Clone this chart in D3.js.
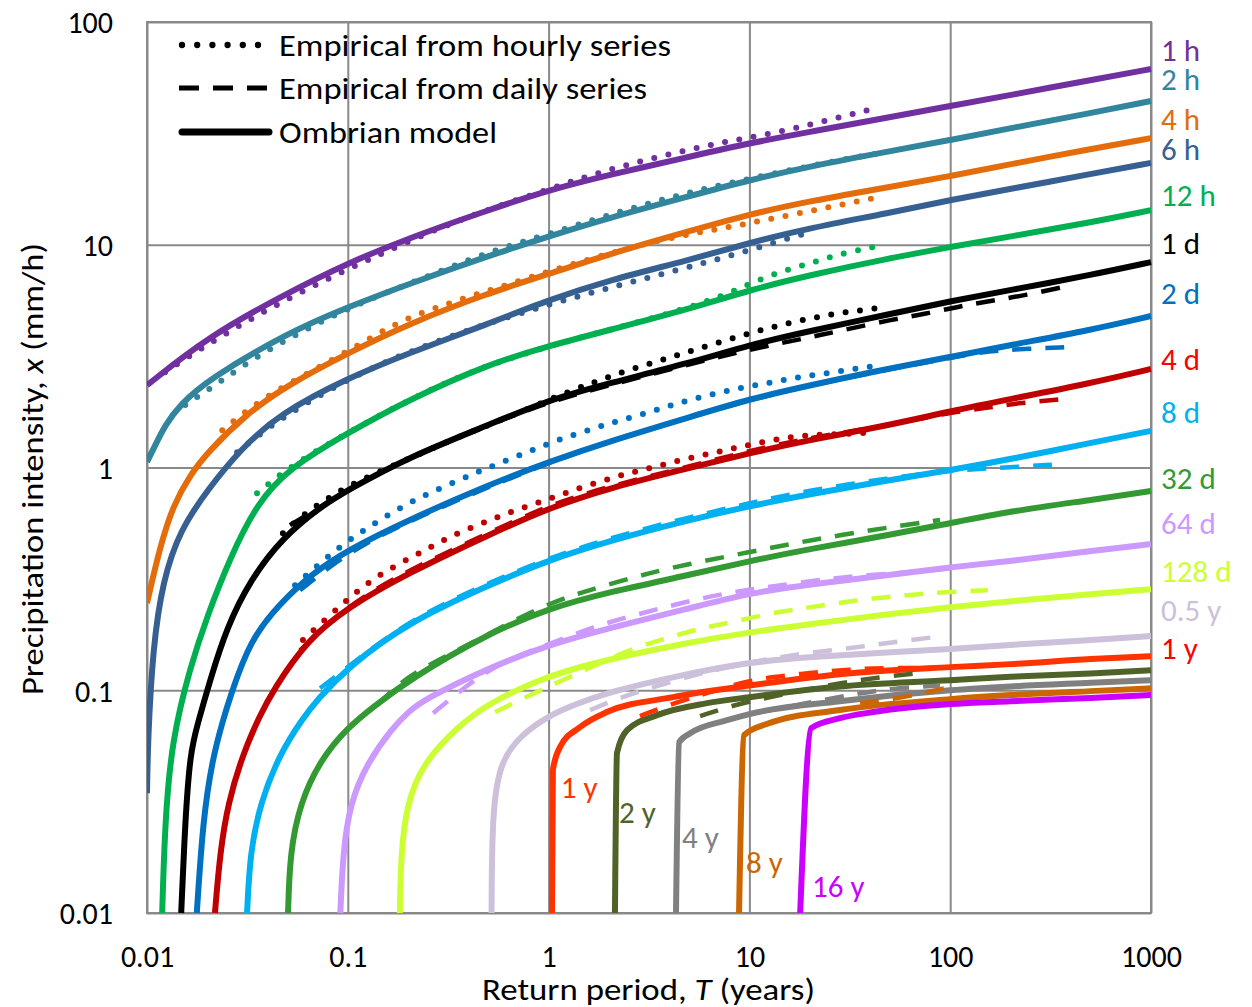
<!DOCTYPE html>
<html>
<head>
<meta charset="utf-8">
<script src="https://cdn.jsdelivr.net/npm/d3@7"></script>
<style>
  body { margin: 0; background: #fff; }
  svg { display: block; }
  text { font-family: Carlito, Calibri, Lato, "Open Sans", sans-serif; }
</style>
</head>
<body>
<svg id="chart" width="1252" height="1007"></svg>
<script>
// ---------- axis ticks ----------
const returnPeriodTicks = [0.01, 0.1, 1, 10, 100, 1000];
const intensityTicks = [0.01, 0.1, 1, 10, 100];

// ---------- durations and colours ----------
const durations = ["1 h", "2 h", "4 h", "6 h", "12 h", "1 d", "2 d", "4 d", "8 d",
                   "32 d", "64 d", "128 d", "0.5 y", "1 y", "2 y", "4 y", "8 y", "16 y"];
const durationColors = ["#7030A0", "#31859C", "#E46C0A", "#376092", "#00B050", "#000000",
                        "#0070C0", "#C00000", "#00B0F0", "#339933", "#CC99FF", "#CCFF33",
                        "#CCC0DA", "#FF3300", "#4F6228", "#808080", "#CC6600", "#CC00FF"];

// ---------- ombrian model curves: [T (years), x (mm/h)] ----------
const model1h = [[0.01,2.34],[0.02,3.85],[0.05,6.08],[0.1,8.27],[0.2,10.7],[0.5,14.3],[1,17.6],[2,20.6],[5,24.8],[10,28.6],[20,32.1],[50,37.4],[100,42.0],[200,47.0],[500,54.9],[1000,61.5]];
const model2h = [[0.01,1.06],[0.011,1.26],[0.0123,1.55],[0.0146,1.91],[0.02,2.47],[0.05,4.02],[0.1,5.25],[0.2,6.66],[0.5,8.90],[1,10.9],[2,13.2],[5,16.5],[10,19.5],[20,22.5],[50,26.3],[100,29.5],[200,33.4],[500,39.0],[1000,44.2]];
const model4h = [[0.01,0.246],[0.0116,0.440],[0.0135,0.678],[0.0164,0.925],[0.02,1.17],[0.0315,1.75],[0.05,2.34],[0.1,3.26],[0.2,4.41],[0.5,6.07],[1,7.38],[2,9.08],[5,11.5],[10,13.7],[20,15.7],[50,18.2],[100,20.3],[200,23.0],[500,26.9],[1000,30.1]];
const model6h = [[0.01,0.0345],[0.0101,0.0597],[0.0107,0.156],[0.012,0.312],[0.0146,0.524],[0.02,0.792],[0.029,1.20],[0.046,1.75],[0.1,2.52],[0.2,3.26],[0.5,4.41],[1,5.65],[2,6.94],[5,8.53],[10,10.2],[20,11.9],[50,13.9],[100,15.9],[200,17.8],[500,20.8],[1000,23.3]];
const model12h = [[0.0119,0.01],[0.0123,0.0261],[0.0133,0.0597],[0.0164,0.127],[0.02,0.217],[0.0259,0.392],[0.0353,0.692],[0.0515,1.00],[0.1,1.43],[0.2,2.01],[0.5,2.91],[1,3.51],[2,4.14],[5,5.14],[10,6.26],[20,7.31],[50,8.71],[100,9.77],[200,10.9],[500,12.6],[1000,14.3]];
const model1d = [[0.0148,0.01],[0.0155,0.0261],[0.0164,0.0522],[0.0178,0.0697],[0.0206,0.111],[0.025,0.192],[0.0326,0.312],[0.0475,0.486],[0.0728,0.664],[0.1,0.792],[0.2,1.11],[0.5,1.55],[1,2.01],[2,2.39],[5,2.94],[10,3.55],[20,4.10],[50,4.88],[100,5.58],[200,6.26],[500,7.31],[1000,8.36]];
const model2d = [[0.0177,0.01],[0.019,0.0261],[0.0211,0.0485],[0.0239,0.0734],[0.0259,0.0931],[0.0326,0.168],[0.046,0.246],[0.0671,0.336],[0.1,0.426],[0.2,0.581],[0.5,0.834],[1,1.06],[2,1.31],[5,1.68],[10,2.03],[20,2.34],[50,2.79],[100,3.13],[200,3.55],[500,4.14],[1000,4.79]];
const model4d = [[0.0218,0.01],[0.0231,0.0186],[0.0253,0.0311],[0.0301,0.0522],[0.0366,0.0773],[0.0424,0.100],[0.0627,0.168],[0.1,0.236],[0.2,0.336],[0.5,0.497],[1,0.658],[2,0.809],[5,0.994],[10,1.16],[20,1.33],[50,1.55],[100,1.79],[200,2.03],[500,2.39],[1000,2.77]];
const model8d = [[0.0315,0.01],[0.0326,0.0186],[0.0366,0.0311],[0.046,0.0522],[0.0598,0.0749],[0.0703,0.0904],[0.1,0.127],[0.2,0.202],[0.5,0.296],[1,0.384],[2,0.468],[5,0.581],[10,0.671],[20,0.760],[50,0.877],[100,0.973],[200,1.09],[500,1.29],[1000,1.46]];
const model32d = [[0.0504,0.01],[0.0515,0.0186],[0.0578,0.0311],[0.0728,0.0485],[0.1,0.0682],[0.1334,0.0839],[0.2,0.111],[0.5,0.180],[1,0.233],[2,0.276],[5,0.329],[10,0.380],[20,0.431],[50,0.498],[100,0.562],[200,0.637],[500,0.714],[1000,0.784]];
const model64d = [[0.0918,0.01],[0.0946,0.0186],[0.1026,0.0311],[0.1247,0.0471],[0.168,0.0682],[0.2,0.0798],[0.237,0.0904],[0.5,0.126],[1,0.160],[2,0.190],[5,0.233],[10,0.273],[20,0.299],[50,0.329],[100,0.357],[200,0.380],[500,0.422],[1000,0.453]];
const model128d = [[0.1816,0.01],[0.184,0.0186],[0.197,0.0311],[0.237,0.0471],[0.350,0.0682],[0.5,0.0875],[1,0.117],[2,0.138],[5,0.164],[10,0.182],[20,0.198],[50,0.220],[100,0.236],[200,0.251],[500,0.270],[1000,0.284]];
const model05y = [[0.520,0.01],[0.523,0.0281],[0.573,0.0485],[0.746,0.0641],[1,0.0766],[1.32,0.0857],[2,0.0982],[4.17,0.115],[10,0.134],[20,0.141],[50,0.148],[100,0.153],[200,0.160],[500,0.168],[1000,0.175]];
const model1y = [[1.04,0.01],[1.05,0.0438],[1.14,0.0556],[1.43,0.0682],[1.95,0.0798],[4.17,0.0931],[10,0.105],[28.2,0.118],[100,0.127],[200,0.131],[500,0.138],[1000,0.142]];
const model2y = [[2.14,0.01],[2.19,0.0522],[2.46,0.0662],[3.47,0.0773],[6.15,0.0875],[10,0.0931],[28.2,0.104],[100,0.111],[200,0.115],[500,0.119],[1000,0.123]];
const model4y = [[4.31,0.01],[4.47,0.0585],[5.07,0.0641],[7.74,0.0734],[10,0.0782],[28.2,0.0893],[100,0.100],[200,0.104],[500,0.108],[1000,0.111]];
const model8y = [[8.88,0.01],[9.40,0.0628],[12.2,0.0705],[28.2,0.0815],[100,0.0912],[200,0.0951],[500,0.0991],[1000,0.102]];
const model16y = [[17.9,0.01],[20.3,0.0676],[28.2,0.0749],[41.3,0.0798],[100,0.0867],[200,0.0893],[500,0.0923],[1000,0.0951]];

// ---------- empirical curves from the hourly series ----------
const hourly1h = [[0.0123,2.68],[0.02,3.58],[0.0424,5.31],[0.1,7.79],[0.237,11.1],[0.455,14.0],[1.05,18.0],[1.74,21.0],[3.47,24.8],[6.90,28.6],[13.7,31.8],[27.3,37.1],[44.7,41.5]];
const hourly2h = [[0.0155,1.91],[0.0226,2.39],[0.0353,3.16],[0.0558,3.97],[0.0893,4.93],[0.1446,5.94],[0.237,7.08],[0.384,8.45],[0.628,9.86],[1.05,11.3],[3.20,15.6],[10,19.9],[31.7,24.5],[44.7,25.8]];
const hourly4h = [[0.0237,1.47],[0.0315,1.81],[0.046,2.27],[0.0649,2.68],[0.0883,3.13],[0.1247,3.73],[0.168,4.36],[0.237,4.99],[0.323,5.47],[0.455,6.07],[0.621,6.59],[0.875,7.31],[1.28,8.11],[2.02,9.18],[4.03,10.8],[8.02,12.0],[15.9,13.6],[31.7,15.4],[44.7,16.4]];
const hourly6h = [[0.0281,1.17],[0.046,1.67],[0.1062,2.57],[0.2,3.30],[0.42,4.23],[1.05,5.47],[2.09,6.46],[4.17,7.62],[8.30,8.99],[13.7,10.3],[20,11.4]];
const hourly12h = [[0.0353,0.767],[0.0515,1.01],[0.0914,1.37],[0.2,2.01],[0.42,2.74],[1,3.51],[2,4.14],[5,5.20],[8.2,6.13],[11.3,7.02],[15.9,7.78],[22.5,8.53],[31.0,9.27],[43.7,9.86]];
const hourly1d = [[0.0475,0.507],[0.0612,0.624],[0.0815,0.736],[0.1,0.826],[0.176,1.04],[0.237,1.17],[0.330,1.33],[0.455,1.50],[0.628,1.68],[0.875,1.91],[1.24,2.18],[1.74,2.44],[2.40,2.71],[3.39,2.97],[4.68,3.26],[6.59,3.58],[9.30,3.93],[13.0,4.27],[18.3,4.59],[25.8,4.88],[36.4,5.09],[43.7,5.20]];
const hourly2d = [[0.0546,0.296],[0.0711,0.365],[0.0935,0.449],[0.1247,0.535],[0.168,0.631],[0.229,0.736],[0.315,0.834],[0.440,0.953],[0.593,1.06],[0.836,1.20],[1.11,1.33],[1.64,1.49],[2.27,1.63],[3.20,1.77],[4.42,1.95],[6.22,2.11],[8.78,2.27],[12.4,2.39],[17.5,2.55],[24.6,2.65],[34.8,2.79],[42.2,2.85]];
const hourly4d = [[0.0598,0.168],[0.0788,0.211],[0.1026,0.262],[0.1334,0.316],[0.182,0.372],[0.248,0.431],[0.334,0.497],[0.466,0.562],[0.643,0.631],[0.906,0.700],[1.25,0.776],[1.76,0.860],[2.49,0.944],[3.47,1.01],[4.90,1.10],[6.90,1.17],[9.73,1.26],[13.7,1.34],[19.4,1.40],[27.6,1.41],[39.0,1.43]];

// ---------- empirical curves from the daily series ----------
const daily1d = [[0.0515,0.551],[0.1,0.792],[0.2,1.11],[0.5,1.55],[1,1.97],[2,2.34],[4.36,2.82],[9.73,3.37],[15.4,3.66],[22.5,3.93],[32.8,4.23],[50,4.59],[73.3,4.88],[108,5.25],[146,5.53],[241,5.94],[404,6.59]];
const daily2d = [[0.0578,0.281],[0.1,0.417],[0.2,0.574],[0.5,0.817],[1,1.05],[2,1.31],[5,1.68],[10,2.01],[20,2.34],[50,2.77],[100,3.10],[141,3.30],[215,3.40],[386,3.47]];
const daily4d = [[0.0578,0.151],[0.1,0.241],[0.2,0.346],[0.5,0.507],[1,0.678],[2,0.824],[5,1.01],[10,1.19],[20,1.36],[50,1.55],[100,1.77],[152,1.85],[223,1.95],[365,2.03]];
const daily8d = [[0.0728,0.102],[0.1,0.127],[0.2,0.206],[0.5,0.303],[1,0.392],[2,0.482],[5,0.598],[10,0.692],[20,0.792],[50,0.896],[100,0.973],[192,1.00],[325,1.03]];
const daily32d = [[0.1397,0.0857],[0.182,0.108],[0.237,0.126],[0.42,0.164],[0.643,0.202],[1.05,0.249],[1.48,0.276],[2.19,0.306],[3.20,0.336],[4.68,0.365],[10,0.417],[20,0.472],[50,0.540],[89,0.581]];
const daily64d = [[0.266,0.0789],[0.375,0.102],[0.573,0.134],[1.14,0.168],[1.66,0.192],[2.46,0.213],[3.59,0.233],[5.25,0.254],[7.74,0.273],[11.3,0.288],[17.3,0.303],[26.1,0.318],[38.5,0.329],[58.2,0.336],[100,0.353]];
const daily128d = [[0.541,0.0798],[0.906,0.100],[1.61,0.126],[2.63,0.155],[3.89,0.171],[5.68,0.190],[8.30,0.202],[12.7,0.222],[18.5,0.233],[27.3,0.246],[41.3,0.259],[61.0,0.267],[92.1,0.276],[154,0.281]];
const daily05y = [[1.61,0.0814],[2.27,0.0931],[5.68,0.120],[11.3,0.136],[16.5,0.144],[25.0,0.151],[38.5,0.158],[56.2,0.166],[92.1,0.175]];
const daily1y = [[2.85,0.0766],[4.36,0.0885],[6.15,0.0970],[8.98,0.108],[13.1,0.115],[20.7,0.120],[31.7,0.124],[46.3,0.126],[75.0,0.126]];
const daily2y = [[5.68,0.0766],[8.98,0.0875],[14.2,0.0951],[20.7,0.102],[30.6,0.109],[46.3,0.115],[75.0,0.120]];
const daily4y = [[11.3,0.0798],[23.3,0.0904],[35.6,0.0970],[51.9,0.102],[89.0,0.105]];
const daily8y = [[35.6,0.0875],[61.0,0.0931],[102,0.104]];

// ---------- curve labels ----------
// right-hand labels: text, colour, intensity level the label sits at
const rightLabels = ["1 h", "2 h", "4 h", "6 h", "12 h", "1 d", "2 d", "4 d", "8 d", "32 d", "64 d", "128 d", "0.5 y", "1 y"];
const rightLabelColors = ["#7030A0", "#31859C", "#E46C0A", "#376092", "#00B050", "#000000", "#0070C0",
                          "#FF0000", "#00B0F0", "#339933", "#CC99FF", "#CCFF33", "#CCC0DA", "#FF0000"];
const rightLabelLevels = [74.9, 55.5, 36.7, 26.9, 16.7, 10.2, 6.07, 3.07, 1.77, 0.896, 0.562, 0.343, 0.229, 0.155];
// labels beside the near-vertical branches: text, colour, [T, x] anchor
const branchLabels = ["1 y", "2 y", "4 y", "8 y", "16 y"];
const branchLabelColors = ["#FF3300", "#4F6228", "#808080", "#CC6600", "#CC00FF"];
const branchLabelAnchors = [[1.15, 0.0367], [2.24, 0.0284], [4.62, 0.0219], [9.62, 0.0169], [20.5, 0.0133]];

const modelCurves = [model1h, model2h, model4h, model6h, model12h, model1d, model2d, model4d, model8d,
                     model32d, model64d, model128d, model05y, model1y, model2y, model4y, model8y, model16y];
const hourlyCurves = { "1 h": hourly1h, "2 h": hourly2h, "4 h": hourly4h, "6 h": hourly6h,
                       "12 h": hourly12h, "1 d": hourly1d, "2 d": hourly2d, "4 d": hourly4d };
const dailyCurves = { "1 d": daily1d, "2 d": daily2d, "4 d": daily4d, "8 d": daily8d, "32 d": daily32d,
                      "64 d": daily64d, "128 d": daily128d, "0.5 y": daily05y, "1 y": daily1y,
                      "2 y": daily2y, "4 y": daily4y, "8 y": daily8y };
// durations whose model curve has a sharp knee at the foot of its vertical branch
const kneeDurations = ["1 y", "2 y", "4 y", "8 y", "16 y"];

// ---------- layout ----------
const plot = { left: 147, top: 22, right: 1151, bottom: 913 };
const svg = d3.select("#chart");
const x = d3.scaleLog().domain([0.01, 1000]).range([plot.left, plot.right]);
const y = d3.scaleLog().domain([0.01, 100]).range([plot.bottom, plot.top]);
const gridColor = "#898989";
const colorOf = Object.fromEntries(durations.map((d, i) => [d, durationColors[i]]));

// grid via axes
const fmt = d3.format("~g");
const xAxis = svg.append("g")
  .attr("transform", `translate(0,${plot.bottom})`)
  .call(d3.axisBottom(x).tickValues(returnPeriodTicks).tickFormat(fmt)
        .tickSizeInner(-(plot.bottom - plot.top)).tickSizeOuter(0));
xAxis.select(".domain").remove();
xAxis.selectAll(".tick line").attr("stroke", gridColor).attr("stroke-width", 2);
xAxis.selectAll(".tick text").attr("y", 54).attr("dy", null)
  .style("font-size", "30px").attr("fill", "#000");

const yAxis = svg.append("g")
  .attr("transform", `translate(${plot.left},0)`)
  .call(d3.axisLeft(y).tickValues(intensityTicks).tickFormat(fmt)
        .tickSizeInner(-(plot.right - plot.left)).tickSizeOuter(0));
yAxis.select(".domain").remove();
yAxis.selectAll(".tick line").attr("stroke", gridColor).attr("stroke-width", 2);
yAxis.selectAll(".tick text").attr("x", -34).attr("dy", "0.36em")
  .style("font-size", "30px").attr("fill", "#000");

svg.append("rect")
  .attr("x", plot.left).attr("y", plot.top)
  .attr("width", plot.right - plot.left).attr("height", plot.bottom - plot.top)
  .attr("fill", "none").attr("stroke", gridColor).attr("stroke-width", 2);

// clip so branches stop at the lower and left frame
svg.append("clipPath").attr("id", "plotClip").append("rect")
  .attr("x", plot.left).attr("y", 0)
  .attr("width", plot.right - plot.left + 6).attr("height", plot.bottom + 3);

const smoothLine = d3.line().x(d => x(d[0])).y(d => y(d[1])).curve(d3.curveBasis);
const kneeLine = d3.line().x(d => x(d[0])).y(d => y(d[1])).curve(d3.curveMonotoneX);
const curves = svg.append("g").attr("clip-path", "url(#plotClip)");

// model curves
modelCurves.forEach((pts, i) => {
  const gen = kneeDurations.includes(durations[i]) ? kneeLine : smoothLine;
  curves.append("path").attr("d", gen(pts))
    .attr("fill", "none").attr("stroke", durationColors[i])
    .attr("stroke-width", 6).attr("stroke-linejoin", "round");
});
// empirical from daily series (dashed)
Object.entries(dailyCurves).forEach(([k, pts]) => {
  curves.append("path").attr("d", smoothLine(pts))
    .attr("fill", "none").attr("stroke", colorOf[k])
    .attr("stroke-width", 4.5).attr("stroke-dasharray", "19 14");
});
// empirical from hourly series (dotted)
Object.entries(hourlyCurves).forEach(([k, pts]) => {
  curves.append("path").attr("d", smoothLine(pts))
    .attr("fill", "none").attr("stroke", colorOf[k])
    .attr("stroke-width", 6).attr("stroke-linecap", "round").attr("stroke-dasharray", "0 14.5");
});

// right-hand labels
rightLabels.forEach((t, i) => {
  svg.append("text").text(t)
    .attr("x", 1161).attr("y", y(rightLabelLevels[i])).attr("dy", "0.36em")
    .style("font-size", "31px").attr("fill", rightLabelColors[i]);
});
// labels beside the vertical branches
branchLabels.forEach((t, i) => {
  const [tt, xv] = branchLabelAnchors[i];
  svg.append("text").text(t)
    .attr("x", x(tt)).attr("y", y(xv)).attr("dy", "0.36em")
    .style("font-size", "31px").attr("fill", branchLabelColors[i]);
});

// legend
const legendItems = ["Empirical from hourly series", "Empirical from daily series", "Ombrian model"];
const legendWidths = [392, 368, 218];
const legendY = [45, 88, 132];
const legend = svg.append("g");
legend.append("line").attr("x1", 182).attr("x2", 259).attr("y1", legendY[0]).attr("y2", legendY[0])
  .attr("stroke", "#000").attr("stroke-width", 6.3).attr("stroke-linecap", "round").attr("stroke-dasharray", "0 15.2");
legend.append("line").attr("x1", 179).attr("x2", 268).attr("y1", legendY[1]).attr("y2", legendY[1])
  .attr("stroke", "#000").attr("stroke-width", 5).attr("stroke-dasharray", "20 14");
legend.append("line").attr("x1", 182).attr("x2", 269).attr("y1", legendY[2]).attr("y2", legendY[2])
  .attr("stroke", "#000").attr("stroke-width", 7).attr("stroke-linecap", "round");

function fitWidth(sel, w) {
  const len = sel.node().getComputedTextLength();
  if (Math.abs(len - w) / w > 0.02) sel.attr("textLength", w).attr("lengthAdjust", "spacingAndGlyphs");
}
legendItems.forEach((t, i) => {
  const tx = legend.append("text").text(t).attr("fill", "#000")
    .attr("x", 279).attr("y", legendY[i]).attr("dy", "0.36em").style("font-size", "31px");
  fitWidth(tx, legendWidths[i]);
});

// axis titles
const xt = svg.append("text").attr("x", 648.5).attr("y", 1000).attr("fill", "#000")
  .attr("text-anchor", "middle").style("font-size", "30px");
xt.append("tspan").text("Return period, ");
xt.append("tspan").text("T").style("font-style", "italic");
xt.append("tspan").text(" (years)");
fitWidth(xt, 333);

const yt = svg.append("text").attr("transform", "translate(43,469) rotate(-90)").attr("fill", "#000")
  .attr("text-anchor", "middle").style("font-size", "30px");
yt.append("tspan").text("Precipitation intensity, ");
yt.append("tspan").text("x").style("font-style", "italic");
yt.append("tspan").text(" (mm/h)");
fitWidth(yt, 452);
</script>
</body>
</html>
